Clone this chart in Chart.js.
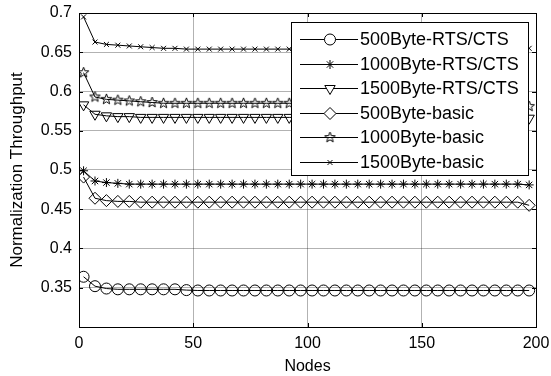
<!DOCTYPE html>
<html>
<head>
<meta charset="utf-8">
<script src="https://cdn.jsdelivr.net/npm/chart.js@4/dist/chart.umd.min.js"></script>
<style>
  html, body { margin: 0; padding: 0; background: #fff; }
  #wrap { width: 551px; height: 376px; }
</style>
</head>
<body>
<div id="wrap"><canvas id="chart_throughput"></canvas></div>
<script>
// node counts on the x axis
var nodes = [2, 7, 12, 17, 22, 27, 32, 37, 42, 47, 52, 57, 62, 67, 72, 77, 82, 87, 92, 97,
             102, 107, 112, 117, 122, 127, 132, 137, 142, 147, 152, 157, 162, 167, 172, 177, 182, 187, 192, 197];

var rts500 = [0.364, 0.352, 0.349, 0.348, 0.348, 0.348, 0.348, 0.348, 0.348, 0.347,
              0.3465, 0.3465, 0.3465, 0.3465, 0.3465, 0.3465, 0.3465, 0.3465, 0.3465, 0.3465,
              0.3465, 0.3465, 0.3465, 0.3465, 0.3465, 0.3465, 0.3465, 0.3465, 0.3465, 0.3465,
              0.3465, 0.3465, 0.3465, 0.3465, 0.3465, 0.3465, 0.3465, 0.3465, 0.3465, 0.3465];
var rts1000 = [0.499, 0.486, 0.484, 0.483, 0.482, 0.482, 0.482, 0.482, 0.482, 0.482,
               0.482, 0.482, 0.482, 0.482, 0.482, 0.482, 0.482, 0.482, 0.482, 0.482,
               0.482, 0.482, 0.482, 0.482, 0.482, 0.482, 0.482, 0.482, 0.482, 0.482,
               0.482, 0.482, 0.482, 0.482, 0.482, 0.482, 0.482, 0.482, 0.482, 0.481];
var rts1500 = [0.583, 0.571, 0.569, 0.568, 0.568, 0.567, 0.567, 0.567, 0.567, 0.567,
               0.567, 0.567, 0.567, 0.567, 0.567, 0.567, 0.567, 0.567, 0.567, 0.567,
               0.567, 0.567, 0.567, 0.567, 0.567, 0.567, 0.567, 0.567, 0.567, 0.567,
               0.567, 0.567, 0.567, 0.567, 0.567, 0.567, 0.567, 0.567, 0.567, 0.566];
var basic500 = [0.491, 0.464, 0.461, 0.460, 0.460, 0.459, 0.459, 0.459, 0.459, 0.459,
                0.459, 0.459, 0.459, 0.459, 0.459, 0.459, 0.459, 0.459, 0.459, 0.459,
                0.459, 0.459, 0.459, 0.459, 0.459, 0.459, 0.459, 0.459, 0.459, 0.459,
                0.459, 0.459, 0.459, 0.459, 0.459, 0.459, 0.459, 0.459, 0.459, 0.455];
var basic1000 = [0.624, 0.593, 0.590, 0.589, 0.588, 0.587, 0.586, 0.585, 0.585, 0.585,
                 0.585, 0.585, 0.585, 0.585, 0.585, 0.585, 0.585, 0.585, 0.585, 0.585,
                 0.585, 0.585, 0.585, 0.585, 0.585, 0.585, 0.585, 0.585, 0.585, 0.585,
                 0.585, 0.585, 0.585, 0.585, 0.585, 0.585, 0.585, 0.585, 0.585, 0.581];
var basic1500 = [0.695, 0.663, 0.660, 0.659, 0.658, 0.657, 0.656, 0.655, 0.655, 0.654,
                 0.654, 0.654, 0.654, 0.654, 0.654, 0.654, 0.654, 0.654, 0.654, 0.654,
                 0.654, 0.654, 0.654, 0.654, 0.654, 0.654, 0.654, 0.654, 0.654, 0.654,
                 0.654, 0.654, 0.654, 0.654, 0.654, 0.654, 0.654, 0.654, 0.654, 0.655];

var seriesNames = ['500Byte-RTS/CTS', '1000Byte-RTS/CTS', '1500Byte-RTS/CTS',
                   '500Byte-basic', '1000Byte-basic', '1500Byte-basic'];
var xTicks = [0, 50, 100, 150, 200];
var yTicks = [0.35, 0.4, 0.45, 0.5, 0.55, 0.6, 0.65, 0.7];

// open five-pointed star marker (matlab 'p')
function makePentagram() {
  var c = document.createElement('canvas');
  c.width = 13; c.height = 13;
  var g = c.getContext('2d');
  g.strokeStyle = '#000';
  g.lineWidth = 1;
  g.beginPath();
  for (var i = 0; i < 10; i++) {
    var r = i % 2 === 0 ? 5.5 : 2.3;
    var a = -Math.PI / 2 + i * Math.PI / 5;
    var px = 6.5 + r * Math.cos(a), py = 6.5 + r * Math.sin(a);
    if (i === 0) g.moveTo(px, py); else g.lineTo(px, py);
  }
  g.closePath();
  g.stroke();
  return c;
}
var pentagram = makePentagram();

var markers = [
  { style: 'circle', radius: 5.5, rot: 0 },
  { style: 'star', radius: 4.5, rot: 0 },
  { style: 'triangle', radius: 6, rot: 180 },
  { style: 'rectRot', radius: 6, rot: 0 },
  { style: pentagram, radius: 6, rot: 0 },
  { style: 'crossRot', radius: 3.5, rot: 0 }
];
var seriesValues = [rts500, rts1000, rts1500, basic500, basic1000, basic1500];

function toPoints(vals) {
  return vals.map(function (v, i) { return { x: nodes[i], y: v }; });
}

var datasets = seriesValues.map(function (vals, k) {
  return {
    label: seriesNames[k],
    data: toPoints(vals),
    borderColor: '#000',
    borderWidth: 1,
    backgroundColor: 'rgba(0,0,0,0)',
    pointStyle: markers[k].style,
    pointRadius: markers[k].radius,
    pointRotation: markers[k].rot,
    pointBorderColor: '#000',
    pointBorderWidth: 1,
    pointBackgroundColor: 'rgba(0,0,0,0)',
    tension: 0
  };
});

var FONT = "'Liberation Sans', Arial, sans-serif";

var boxPlugin = {
  id: 'matlabBox',
  afterDatasetsDraw: function (chart) {
    var ctx = chart.ctx, a = chart.chartArea;
    var xs = chart.scales.x, ys = chart.scales.y;
    ctx.save();

    // legend inside the axes, top right
    var lx0 = 291, ly0 = 22, lx1 = 528, ly1 = 175;
    ctx.fillStyle = '#fff';
    ctx.fillRect(lx0, ly0, lx1 - lx0, ly1 - ly0);
    ctx.strokeStyle = '#000';
    ctx.lineWidth = 1;
    ctx.strokeRect(lx0 + 0.5, ly0 + 0.5, lx1 - lx0, ly1 - ly0);
    ctx.font = '18px ' + FONT;
    ctx.textBaseline = 'middle';
    ctx.textAlign = 'left';
    for (var k = 0; k < seriesNames.length; k++) {
      var ry = Math.round(39 + k * 24.6) + 0.5;
      ctx.beginPath();
      ctx.moveTo(300, ry);
      ctx.lineTo(358, ry);
      ctx.stroke();
      ctx.fillStyle = '#fff';
      Chart.helpers.drawPoint(ctx, {
        pointStyle: markers[k].style,
        radius: markers[k].radius,
        rotation: markers[k].rot,
        borderWidth: 1
      }, 330, ry);
      ctx.fillStyle = '#000';
      ctx.fillText(seriesNames[k], 360, ry + 1);
    }

    // axes box and inward ticks
    ctx.strokeStyle = '#000';
    ctx.lineWidth = 1;
    ctx.strokeRect(Math.round(a.left) + 0.5, Math.round(a.top) + 0.5,
                   Math.round(a.right - a.left), Math.round(a.bottom - a.top));
    ctx.beginPath();
    xTicks.forEach(function (t) {
      var px = Math.round(xs.getPixelForValue(t)) + 0.5;
      ctx.moveTo(px, a.bottom); ctx.lineTo(px, a.bottom - 4);
      ctx.moveTo(px, a.top); ctx.lineTo(px, a.top + 4);
    });
    yTicks.forEach(function (t) {
      var py = Math.round(ys.getPixelForValue(t)) + 0.5;
      ctx.moveTo(a.left, py); ctx.lineTo(a.left + 4, py);
      ctx.moveTo(a.right, py); ctx.lineTo(a.right - 4, py);
    });
    ctx.stroke();
    ctx.restore();
  }
};

var chart_throughput = new Chart(document.getElementById('chart_throughput'), {
  type: 'line',
  data: { datasets: datasets },
  options: {
    animation: false,
    responsive: true,
    maintainAspectRatio: false,
    layout: { padding: { left: 0, right: 15, top: 13, bottom: 0 } },
    plugins: {
      legend: { display: false },
      title: { display: false },
      tooltip: { enabled: false }
    },
    scales: {
      x: {
        type: 'linear',
        min: 0,
        max: 200,
        afterFit: function (s) { s.height = 49; s.paddingLeft = 0; s.paddingRight = 0; },
        afterBuildTicks: function (s) { s.ticks = xTicks.map(function (v) { return { value: v }; }); },
        ticks: { color: '#000', font: { family: FONT, size: 16 }, padding: 7, maxRotation: 0 },
        grid: { color: 'rgba(0,0,0,0.3)', drawTicks: false },
        border: { display: false },
        title: { display: true, text: 'Nodes', color: '#000', font: { family: FONT, size: 16 }, padding: { top: 0, bottom: 0 } }
      },
      y: {
        type: 'linear',
        min: 0.3,
        max: 0.7,
        afterFit: function (s) { s.width = 79; s.paddingTop = 0; s.paddingBottom = 0; },
        afterBuildTicks: function (s) { s.ticks = yTicks.map(function (v) { return { value: v }; }); },
        ticks: {
          color: '#000',
          font: { family: FONT, size: 16 },
          padding: 7,
          callback: function (v) { return String(+v.toFixed(2)); }
        },
        grid: { color: 'rgba(0,0,0,0.3)', drawTicks: false },
        border: { display: false },
        title: { display: true, text: 'Normalization Throughput', color: '#000', font: { family: FONT, size: 17 }, padding: { top: 7, bottom: 0 } }
      }
    }
  },
  plugins: [boxPlugin]
});
</script>
</body>
</html>
